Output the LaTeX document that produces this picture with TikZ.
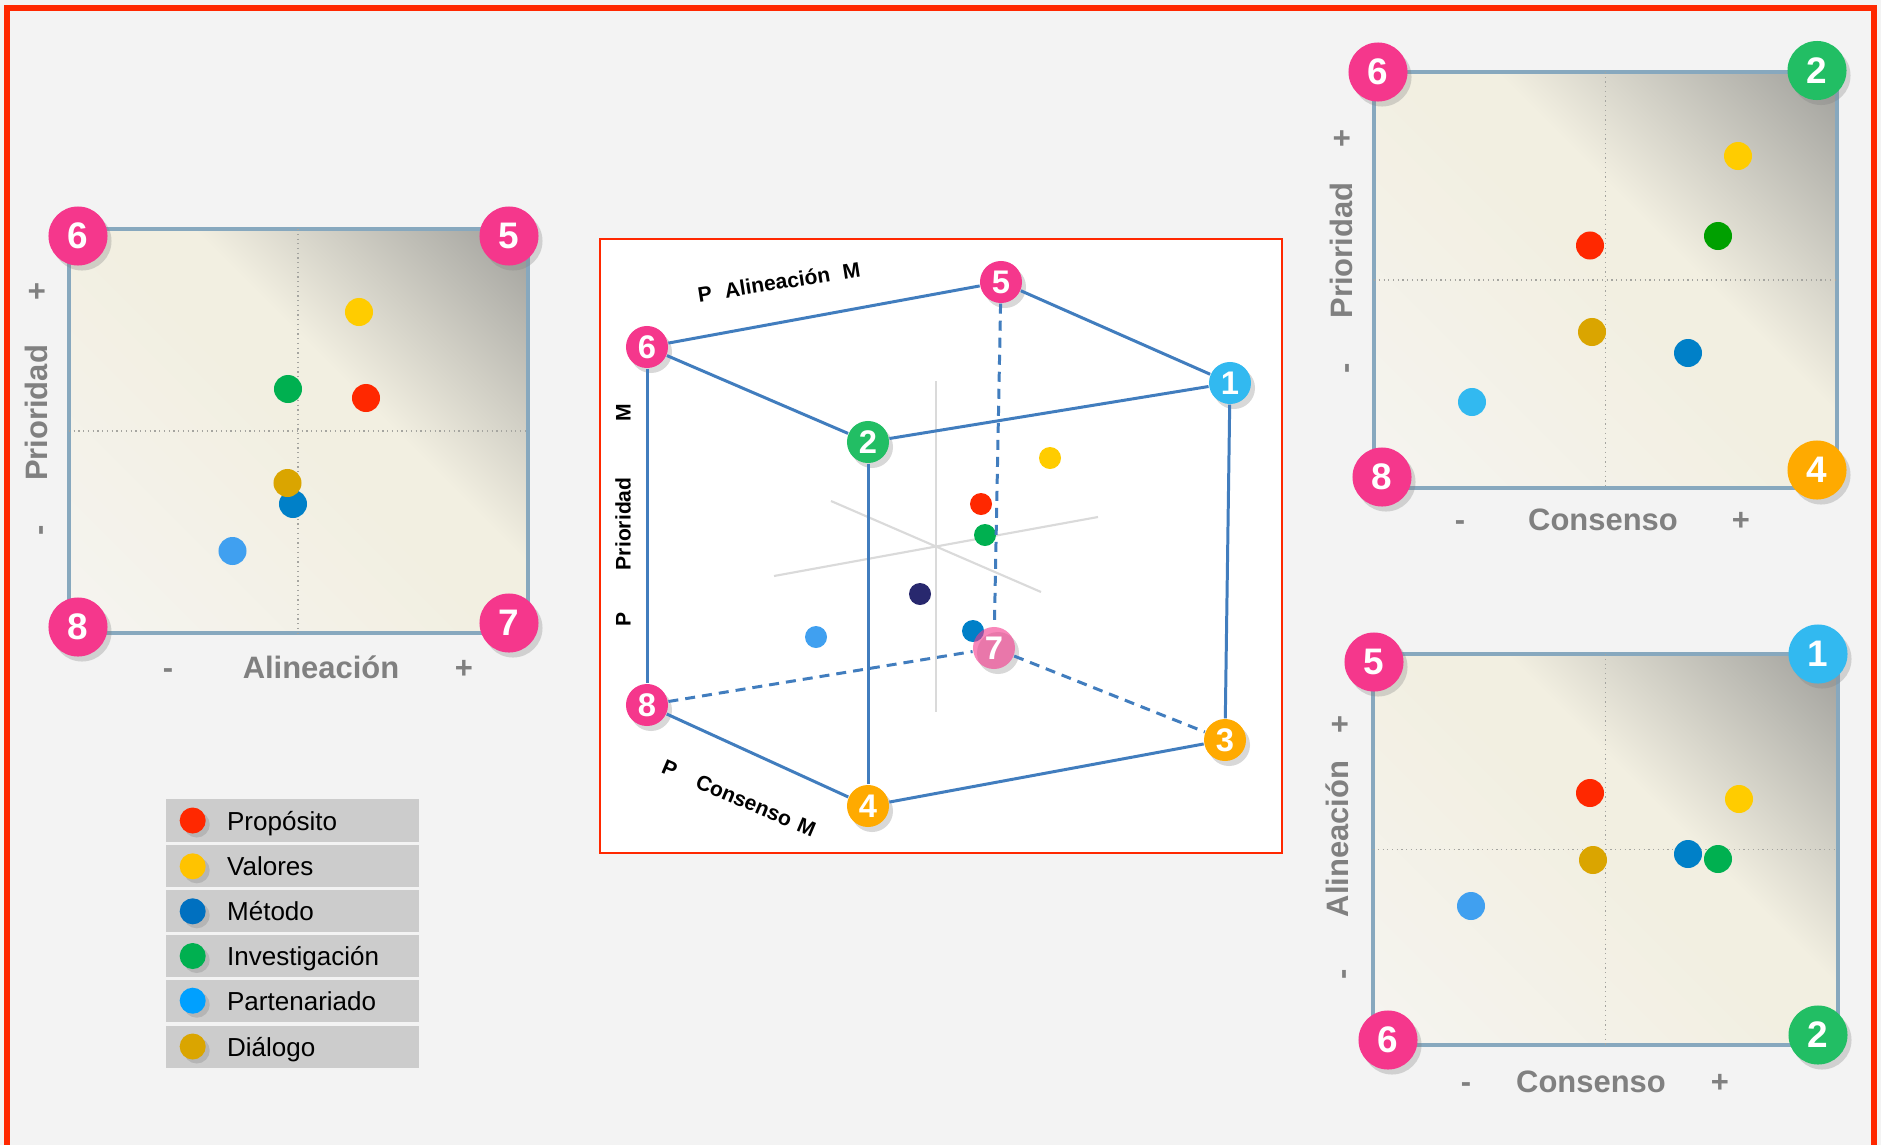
\documentclass[tikz,border=0pt]{standalone}
\usepackage{fontspec}
\setmainfont{Liberation Sans}
\usepackage{tikz}
\usetikzlibrary{positioning}
\usetikzlibrary{shadows}
\definecolor{bgc}{RGB}{243,243,243}
\definecolor{framered}{RGB}{255,40,0}
\definecolor{pinkc}{RGB}{245,55,140}
\definecolor{greenc}{RGB}{34,190,100}
\definecolor{cyanc}{RGB}{50,185,240}
\definecolor{orangec}{RGB}{255,170,0}
\definecolor{edgec}{RGB}{65,125,190}
\definecolor{boxc}{RGB}{135,168,190}
\definecolor{labc}{RGB}{128,128,128}
\definecolor{midc}{RGB}{165,165,160}
\definecolor{axisg}{RGB}{218,218,218}
\definecolor{legc}{RGB}{204,204,204}
\definecolor{propc}{RGB}{255,40,0}
\definecolor{valoc}{RGB}{255,195,0}
\definecolor{metoc}{RGB}{0,112,192}
\definecolor{invec}{RGB}{0,176,80}
\definecolor{partc}{RGB}{0,160,255}
\definecolor{dialc}{RGB}{218,165,0}
\definecolor{yelc}{RGB}{255,204,0}
\definecolor{bluec}{RGB}{0,128,200}
\definecolor{lbluc}{RGB}{64,160,240}
\definecolor{dgreenc}{RGB}{0,160,0}
\definecolor{navyc}{RGB}{40,40,110}
\definecolor{bgl}{RGB}{245,244,240}
\definecolor{bgm}{RGB}{242,239,225}
\definecolor{bgd}{RGB}{158,158,154}
\pgfdeclarehorizontalshading{chartbg}{100bp}{color(0bp)=(bgl); color(15bp)=(bgl); color(50bp)=(bgm); color(58bp)=(bgm); color(86bp)=(bgd); color(100bp)=(bgd)}

\begin{document}
\begin{tikzpicture}[x=0.01cm, y=-0.01cm,
  num/.style={circle, fill=#1, inner sep=0pt, minimum size=0.59cm, text=white, font=\fontsize{10.5}{10.5}\selectfont\bfseries, drop shadow={opacity=0.3, shadow xshift=0.04cm, shadow yshift=-0.05cm}},
  cnum/.style={num=#1, minimum size=0.42cm, font=\fontsize{9.3}{9.3}\selectfont\bfseries},
  chartbox/.style={draw=boxc, line width=0.9pt, shading=chartbg, shading angle=45},
  midline/.style={midc, line width=0.35pt, densely dotted},
  axlab/.style={text=labc, font=\fontsize{8.8}{10}\selectfont\bfseries, inner sep=0pt, text height=0.22cm, text depth=0pt},
  cubelab/.style={font=\fontsize{6}{7}\selectfont\bfseries, inner sep=0pt, text height=0.15cm, text depth=0pt},
  edge/.style={edgec, line width=0.85pt},
  hidden/.style={edge, dash pattern=on 0.1cm off 0.07cm},
  legrow/.style={fill=legc, minimum width=2.53cm, minimum height=0.42cm, inner sep=0pt},
  legdot/.style={circle, fill=#1, minimum size=0.26cm, inner sep=0pt, drop shadow={opacity=0.3, shadow xshift=0.04cm, shadow yshift=-0.04cm}},
  legtext/.style={font=\fontsize{7.4}{9}\selectfont, inner sep=0pt, text height=0.19cm, text depth=0pt}]

\useasboundingbox (0,0) rectangle (1881,1145);
\fill[bgc] (0,0) rectangle (1881,1145);
\draw[framered, line width=0.06cm] (7,7.5) rectangle (1874,1150);

% left chart: Alineacion / Prioridad
\shadedraw[chartbox] (69,229) rectangle (528,633);
\draw[midline] (298,229) -- (298,633);
\draw[midline] (69,431) -- (528,431);
\fill[yelc] (359,312) circle (0.14cm);
\fill[invec] (288,389) circle (0.14cm);
\fill[propc] (366,398) circle (0.14cm);
\fill[bluec] (293,504) circle (0.14cm);
\fill[dialc] (287.5,483) circle (0.14cm);
\fill[lbluc] (232.5,551) circle (0.14cm);
\node[num=pinkc] (l6) at (78,236) {6};
\node[num=pinkc] (l5) at (509,236) {5};
\node[num=pinkc] (l8) at (78,627) {8};
\node[num=pinkc] (l7) at (509,623) {7};
\node[axlab, rotate=90] (lpri) at (36,413) {Prioridad};
\node[axlab, rotate=90] (lpplus) at (36,291) {+};
\node[axlab, rotate=90] (lpminus) at (38,530) {-};
\node[axlab] (lali) at (321,667) {Alineación};
\node[axlab] (laminus) at (168,667) {-};
\node[axlab] (laplus) at (464,667) {+};

% top right chart: Consenso / Prioridad
\shadedraw[chartbox] (1374,72) rectangle (1837,488);
\draw[midline] (1605.5,72) -- (1605.5,488);
\draw[midline] (1374,280) -- (1837,280);
\fill[yelc] (1738,156) circle (0.14cm);
\fill[dgreenc] (1718,236) circle (0.14cm);
\fill[propc] (1590,245.5) circle (0.14cm);
\fill[dialc] (1592,332) circle (0.14cm);
\fill[bluec] (1688,353) circle (0.14cm);
\fill[cyanc] (1472,402) circle (0.14cm);
\node[num=pinkc] (t6) at (1378,72) {6};
\node[num=greenc] (t2) at (1817,70.5) {2};
\node[num=pinkc] (t8) at (1382,477) {8};
\node[num=orangec] (t4) at (1817,470) {4};
\node[axlab, rotate=90] (tpri) at (1341,250.5) {Prioridad};
\node[axlab, rotate=90] (tpplus) at (1341,138) {+};
\node[axlab, rotate=90] (tpminus) at (1344,368) {-};
\node[axlab] (tcon) at (1603,519) {Consenso};
\node[axlab] (tcminus) at (1460,519) {-};
\node[axlab] (tcplus) at (1741,519) {+};

% bottom right chart: Consenso / Alineacion
\shadedraw[chartbox] (1373,654) rectangle (1838,1045);
\draw[midline] (1605.5,654) -- (1605.5,1045);
\draw[midline] (1373,849.5) -- (1838,849.5);
\fill[propc] (1590,793) circle (0.14cm);
\fill[yelc] (1739,799) circle (0.14cm);
\fill[dialc] (1593,860) circle (0.14cm);
\fill[bluec] (1688,854) circle (0.14cm);
\fill[invec] (1718,859) circle (0.14cm);
\fill[lbluc] (1471,906) circle (0.14cm);
\node[num=pinkc] (b5) at (1374,662) {5};
\node[num=cyanc] (b1) at (1818,654) {1};
\node[num=pinkc] (b6) at (1388,1040) {6};
\node[num=greenc] (b2) at (1818,1035) {2};
\node[axlab, rotate=90] (bali) at (1337,839) {Alineación};
\node[axlab, rotate=90] (baplus) at (1339,724) {+};
\node[axlab, rotate=90] (baminus) at (1341,974) {-};
\node[axlab] (bcon) at (1591,1081) {Consenso};
\node[axlab] (bcminus) at (1466,1081) {-};
\node[axlab] (bcplus) at (1720,1081) {+};

% cube
\draw[framered, line width=0.7pt, fill=white] (600,239) rectangle (1282,853);
\draw[axisg, line width=0.6pt] (936,381) -- (936,712);
\draw[axisg, line width=0.6pt] (831,501) -- (1041,592);
\draw[axisg, line width=0.6pt] (774,576) -- (1098,517);
\fill[yelc] (1050,458) circle (0.11cm);
\fill[propc] (981,504) circle (0.11cm);
\fill[invec] (985,535) circle (0.11cm);
\fill[navyc] (920,594) circle (0.11cm);
\fill[lbluc] (816,637) circle (0.11cm);
\fill[bluec] (973,631) circle (0.11cm);

\node[cnum=pinkc] (c5) at (1001,282) {5};
\node[cnum=pinkc] (c6) at (647,347) {6};
\node[cnum=cyanc] (c1) at (1230,383) {1};
\node[cnum=greenc] (c2) at (868,442) {2};
\node[cnum=pinkc] (c8) at (647,705) {8};
\node[cnum=pinkc, fill opacity=0.6, text opacity=1] (c7) at (994,648) {7};
\node[cnum=orangec] (c3) at (1225,740) {3};
\node[cnum=orangec] (c4) at (868,806) {4};

\draw[edge] (c6) -- (c5);
\draw[edge] (c5) -- (c1);
\draw[edge] (c6) -- (c2);
\draw[edge] (c2) -- (c1);
\draw[edge] (c6) -- (c8);
\draw[edge] (c2) -- (c4);
\draw[edge] (c1) -- (c3);
\draw[edge] (c8) -- (c4);
\draw[edge] (c4) -- (c3);
\draw[hidden] (c5) -- (c7);
\draw[hidden] (c8) -- (c7);
\draw[hidden] (c7) -- (c3);

\node[cubelab, rotate=9] (cali) at (779,282) {P\hspace{0.13cm}Alineación\hspace{0.13cm}M};
\node[cubelab, rotate=90] (cpri) at (623,515) {P\hspace{0.42cm}Prioridad\hspace{0.56cm}M};
\node[cubelab, rotate=-23] (ccon) at (739,798) {P\hspace{0.23cm}Consenso\hspace{0.08cm}M};

% legend
\node[legrow] (row1) at (292.5,820.5) {};
\node[legrow] (row2) at (292.5,866.3) {};
\node[legrow] (row3) at (292.5,911.3) {};
\node[legrow] (row4) at (292.5,956) {};
\node[legrow] (row5) at (292.5,1000.7) {};
\node[legrow] (row6) at (292.5,1046.5) {};
\node[legdot=propc] (dot1) at (192.7,820.5) {};
\node[legdot=valoc] (dot2) at (192.7,866.3) {};
\node[legdot=metoc] (dot3) at (192.7,911.3) {};
\node[legdot=invec] (dot4) at (192.7,956) {};
\node[legdot=partc] (dot5) at (192.7,1000.7) {};
\node[legdot=dialc] (dot6) at (192.7,1046.5) {};
\node[legtext, right=0.2cm of dot1] (txt1) {Propósito};
\node[legtext, right=0.2cm of dot2] (txt2) {Valores};
\node[legtext, right=0.2cm of dot3] (txt3) {Método};
\node[legtext, right=0.2cm of dot4] (txt4) {Investigación};
\node[legtext, right=0.2cm of dot5] (txt5) {Partenariado};
\node[legtext, right=0.2cm of dot6] (txt6) {Diálogo};
\end{tikzpicture}
\end{document}
